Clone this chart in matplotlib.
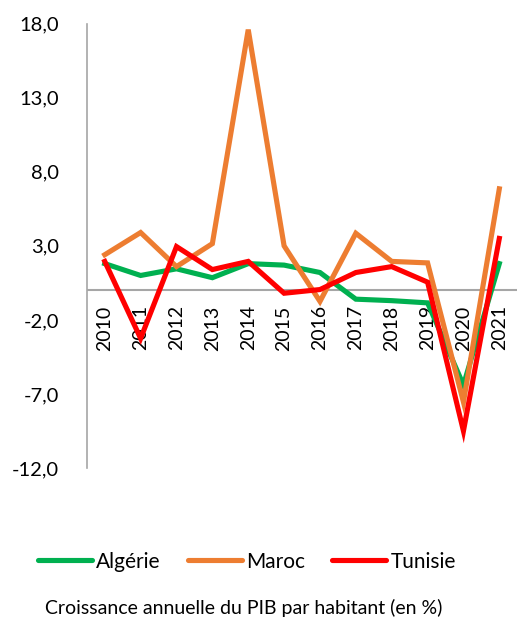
import matplotlib
matplotlib.use("Agg")
import matplotlib.pyplot as plt
import matplotlib.transforms as mtransforms

years = ["2010", "2011", "2012", "2013", "2014", "2015", "2016", "2017", "2018", "2019", "2020", "2021"]
algerie = [1.8, 1.0, 1.45, 0.85, 1.8, 1.7, 1.2, -0.6, -0.7, -0.85, -6.4, 1.8]
maroc = [2.4, 3.9, 1.6, 3.15, 17.6, 3.0, -0.75, 3.85, 1.95, 1.85, -7.55, 6.85]
tunisie = [1.95, -3.25, 2.95, 1.4, 1.95, -0.2, 0.05, 1.2, 1.6, 0.55, -9.5, 3.5]
yticks = [-12, -7, -2, 3, 8, 13, 18]

plt.rcParams['font.family'] = ['Lato', 'DejaVu Sans']

fig = plt.figure(figsize=(5.23, 6.24), dpi=100)
ax = fig.add_axes([0.166, 0.25, 0.823, 0.712])

x = list(range(len(years)))
lw = 3.7
ax.plot(x, algerie, color="#00b050", lw=lw, label="Algérie", solid_joinstyle="miter", zorder=3)
ax.plot(x, maroc, color="#ed7d31", lw=lw, label="Maroc", solid_joinstyle="miter", zorder=3)
ax.plot(x, tunisie, color="#ff0000", lw=lw, label="Tunisie", solid_joinstyle="miter", zorder=3)

ax.set_ylim(-12, 18)
ax.set_xlim(-0.5, 11.5)
ax.set_yticks(yticks)
ax.set_yticklabels([f"{v:.1f}".replace(".", ",") for v in yticks], fontsize=14.5)
ax.tick_params(axis='y', length=0, pad=20)
ax.set_xticks([])

for s in ["top", "right", "bottom"]:
    ax.spines[s].set_visible(False)
ax.spines["left"].set_color("#a6a6a6")
ax.spines["left"].set_linewidth(1.2)
ax.axhline(0, color="#a6a6a6", lw=1.5, zorder=1)

offset = mtransforms.ScaledTranslation(0, -15/100, fig.dpi_scale_trans)
for i, yr in enumerate(years):
    ax.text(i, 0, yr, rotation=90, ha="center", va="top", fontsize=14,
            transform=ax.transData + offset, zorder=1)

leg = fig.legend(loc="center", bbox_to_anchor=(0.472, 0.1), ncol=3, frameon=False,
                 fontsize=15, handlelength=2.6, handletextpad=0.2, columnspacing=1.3)
for h in leg.get_lines():
    h.set_solid_capstyle("round")

fig.text(0.465, 0.026, "Croissance annuelle du PIB par habitant (en %)", ha="center", va="center", fontsize=14)

fig.savefig("out.png", dpi=100)
